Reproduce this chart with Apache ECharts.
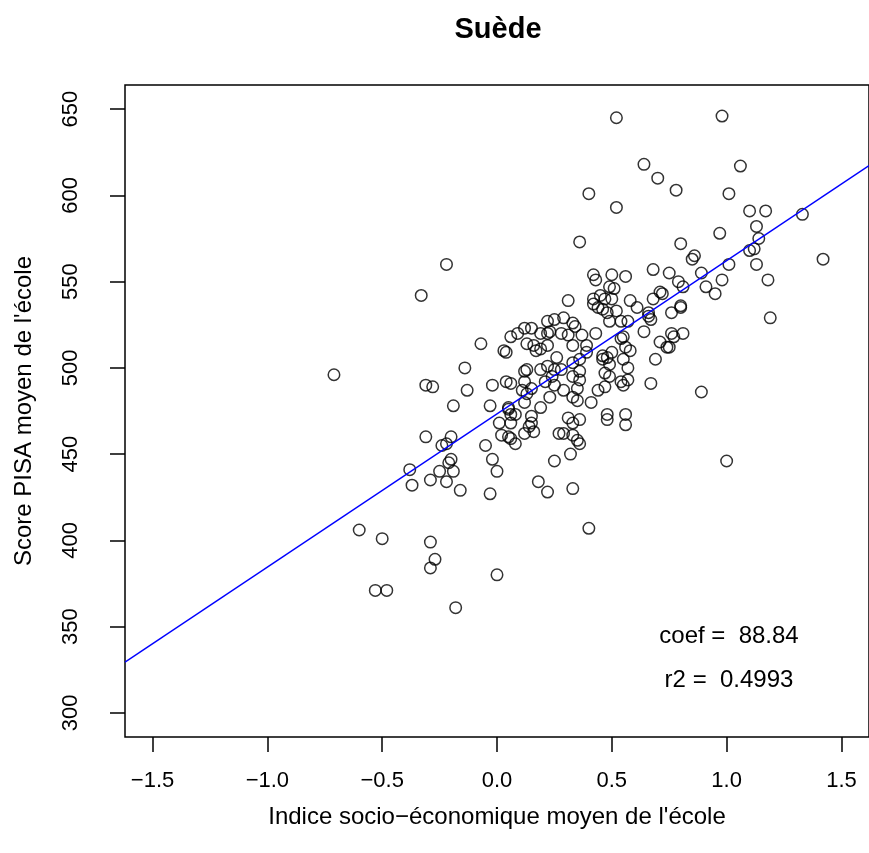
<!DOCTYPE html>
<html>
<head>
<meta charset="utf-8">
<script src="https://cdn.jsdelivr.net/npm/echarts@6/dist/echarts.min.js"></script>
<style>
html,body{margin:0;padding:0;background:#fff;}
#chart{width:869px;height:853px;}
</style>
</head>
<body>
<div id="chart"></div>
<script>
// ---- Data ----
const chartTitle = 'Suède';
const xAxisTitle = "Indice socio\u2212économique moyen de l'école";
const yAxisTitle = "Score PISA moyen de l'école";
const xTicks = [-1.5, -1.0, -0.5, 0.0, 0.5, 1.0, 1.5];
const yTicks = [300, 350, 400, 450, 500, 550, 600, 650];
const regCoef = 88.84;
const regIntercept = 473.3;
const regR2 = 0.4993;

const schoolSES = [
 0.52,0.98,0.64,1.06,0.70,0.78,0.40,0.52,1.01,1.10,1.17,1.33,1.13,0.97,1.14,1.10,1.12,0.86,0.85,1.01,
 1.42,1.13,0.89,0.98,1.18,0.91,0.95,0.36,0.80,0.42,0.43,0.50,0.56,0.68,0.75,0.79,0.81,0.49,0.51,0.31,
 0.42,0.45,0.47,0.42,0.44,0.46,0.71,0.72,0.58,0.50,0.68,-0.22,-0.33,1.19,0.89,1.00,
 0.48,0.52,0.61,0.66,0.76,0.80,0.80,0.49,0.54,0.57,0.66,0.67,0.64,0.33,0.34,0.29,0.28,0.31,0.37,0.43,
 0.54,0.55,0.33,0.39,0.56,0.58,0.71,0.74,0.75,0.76,0.77,0.81,0.39,0.33,0.36,0.46,0.46,0.48,0.50,0.49,
 0.55,0.69,0.57,0.28,0.36,0.33,0.36,0.47,0.49,0.54,0.55,0.57,0.67,0.29,0.35,0.44,0.47,0.33,0.35,0.41,
 0.48,0.56,0.31,
 -0.07,0.03,0.04,-0.14,-0.28,-0.13,-0.19,-0.03,-0.02,0.04,0.06,0.12,0.13,0.12,0.06,0.09,0.12,0.15,0.19,0.13,
 0.16,0.17,0.19,0.22,0.25,0.22,0.23,0.22,0.26,0.19,0.22,0.25,0.24,0.21,0.25,0.11,0.13,0.15,0.12,0.19,
 0.23,0.05,0.05,0.06,0.08,0.15,
 -0.71,-0.31,-0.31,-0.38,-0.37,-0.29,
 -0.20,-0.24,-0.22,-0.05,-0.20,-0.21,-0.02,-0.25,-0.19,0.00,-0.22,-0.16,-0.03,0.01,0.06,0.02,0.05,0.06,0.08,0.12,
 0.14,0.16,0.15,0.27,0.25,0.18,0.22,
 0.33,0.36,0.29,0.33,0.35,0.36,0.32,0.56,0.48,0.33,0.40,
 -0.60,-0.50,-0.29,-0.27,-0.29,-0.53,-0.48,-0.18,0.00
];
const schoolScore = [
 645,646,618,617,610,603,601,593,601,591,591,589,582,578,575,568,569,565,563,560,
 563,560,555,551,551,547,543,573,572,554,551,554,553,557,555,550,547,547,546,539,
 540,542,540,537,535,534,544,543,539,540,540,560,542,529,486,446,
 532,533,535,532,532,536,535,527,527,527,530,528,521,526,524,529,520,519,519,520,
 517,518,513,513,512,510,515,512,512,520,518,520,509,503,505,507,505,506,509,502,
 505,505,500,499,498,495,493,497,495,492,490,493,491,487,488,487,489,483,481,480,
 473,473,471,
 514,510,509,500,489,487,478,478,490,492,491,492,499,498,518,520,523,523,520,514,
 513,510,511,527,528,520,521,513,506,499,501,499,495,492,490,487,485,488,480,477,
 483,477,476,473,473,472,
 496,490,460,441,432,435,
 460,455,456,455,447,445,447,440,440,440,434,429,427,468,468,461,460,459,456,462,
 466,463,468,462,446,434,428,
 468,470,462,461,458,456,450,467,470,430,407,
 406,401,399,389,384,371,371,361,380
];

// ---- Chart ----
const FONT = '"Liberation Sans", Arial, Helvetica, sans-serif';
const xMin = -1.62, xMax = 1.62, yMin = 286, yMax = 664;
const points = schoolSES.map((v, i) => [v, schoolScore[i]]);
const regLine = [[xMin, regIntercept + regCoef * xMin], [xMax, regIntercept + regCoef * xMax]];
const fmtX = v => (v < 0 ? '\u2212' : '') + Math.abs(v).toFixed(1);

const chart = echarts.init(document.getElementById('chart'), null, {renderer: 'canvas'});
chart.setOption({
  animation: false,
  backgroundColor: '#ffffff',
  grid: {left: 125, top: 85, width: 744, height: 652, show: true, borderColor: '#000', borderWidth: 1.5, backgroundColor: 'transparent'},
  xAxis: {
    type: 'value', min: xMin, max: xMax,
    splitLine: {show: false},
    axisLine: {show: false, onZero: false},
    axisTick: {show: true, customValues: xTicks, length: 15, lineStyle: {color: '#000', width: 1.5}},
    axisLabel: {customValues: xTicks, formatter: fmtX, color: '#000', fontSize: 22, fontFamily: FONT, margin: 33},
    name: xAxisTitle, nameLocation: 'middle', nameGap: 68,
    nameTextStyle: {color: '#000', fontSize: 24, fontFamily: FONT}
  },
  yAxis: {
    type: 'value', min: yMin, max: yMax,
    splitLine: {show: false},
    axisLine: {show: false, onZero: false},
    axisTick: {show: true, customValues: yTicks, length: 15, lineStyle: {color: '#000', width: 1.5}},
    axisLabel: {customValues: yTicks, color: '#000', fontSize: 22, fontFamily: FONT, rotate: 90, margin: 43},
    name: yAxisTitle, nameLocation: 'middle', nameGap: 89,
    nameTextStyle: {color: '#000', fontSize: 24, fontFamily: FONT}
  },
  series: [
    {
      type: 'scatter', data: points, symbol: 'circle', symbolSize: 11.5, z: 2,
      itemStyle: {color: 'rgba(0,0,0,0)', borderColor: '#000', borderWidth: 1.5}
    },
    {
      type: 'line', data: regLine, showSymbol: false, symbol: 'none', z: 3,
      lineStyle: {color: '#0000ff', width: 1.4}
    }
  ],
  graphic: [
    {type: 'text', x: 498, y: 30, style: {text: chartTitle, align: 'center', verticalAlign: 'middle', font: 'bold 29px ' + FONT, fill: '#000'}},
    {type: 'text', x: 729, y: 636, style: {text: 'coef =  ' + regCoef.toFixed(2), align: 'center', verticalAlign: 'middle', font: '24px ' + FONT, fill: '#000'}},
    {type: 'text', x: 729, y: 680, style: {text: 'r2 =  ' + regR2.toFixed(4), align: 'center', verticalAlign: 'middle', font: '24px ' + FONT, fill: '#000'}}
  ]
});
</script>
</body>
</html>
